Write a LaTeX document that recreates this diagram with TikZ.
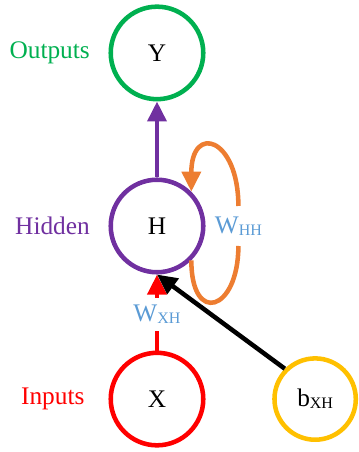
\documentclass[tikz,border=0pt]{standalone}
\usepackage{fontspec}
\setmainfont{Liberation Serif}
\usetikzlibrary{positioning}
\usetikzlibrary{arrows.meta}
\definecolor{outgreen}{RGB}{0,176,80}
\definecolor{hidpurple}{RGB}{112,48,160}
\definecolor{inred}{RGB}{255,0,0}
\definecolor{biasgold}{RGB}{255,192,0}
\definecolor{loopor}{RGB}{237,125,49}
\definecolor{wblue}{RGB}{91,155,213}
\newcommand{\wsub}[1]{\raisebox{-1.5pt}{\fontsize{12}{14}\selectfont #1}}
\tikzset{
unit/.style={draw,circle,minimum size=69.4pt,inner sep=0pt},
lbl/.style={inner sep=0pt,outer sep=0pt},
wgt/.style={text=wblue,inner sep=0pt,outer sep=0pt},
arr/.style={-{Triangle[width=14pt,length=15pt]}}
}

\begin{document}
\begin{tikzpicture}[x=0.75pt,y=0.75pt,line width=3.4pt,node distance=57pt,
  font=\fontsize{19}{23}\selectfont]
\useasboundingbox (0,0) rectangle (358,452);
\node[unit,draw=hidpurple] (H) at (157,226) {H};
\node[unit,draw=outgreen]  (Y) [above=of H] {Y};
\node[unit,draw=inred]     (X) [below=of H] {X};
\node[unit,draw=biasgold,minimum size=61pt] (b) [right=50pt of X] {b\wsub{XH}};
% layer names on the left
\node[lbl,text=outgreen]  (outlbl) [left=14pt of Y] {Outputs};
\node[lbl,text=hidpurple] (hidlbl) [left=14pt of H] {Hidden};
\node[lbl,text=inred]     (inlbl)  [left=18pt of X] {Inputs};
% weights
\node[wgt,minimum height=30pt]    (whh) [right=7pt of H] {W\wsub{HH}};
\node[wgt,minimum height=24.75pt] (wxh) [above=15pt of X] {W\wsub{XH}};
\draw[arr,hidpurple] (H) -- (Y);
\draw[inred] (X) -- (wxh);
\draw[arr,inred] (wxh) -- (H.south);
\draw[loopor] (H.-45) to[out=-90,in=-90,looseness=3.4] (whh.south);
\draw[arr,loopor] (whh.north) to[out=90,in=90,looseness=3.56] (H.45);
\draw[arr] (b.135) -- (H.south);
\end{tikzpicture}
\end{document}
